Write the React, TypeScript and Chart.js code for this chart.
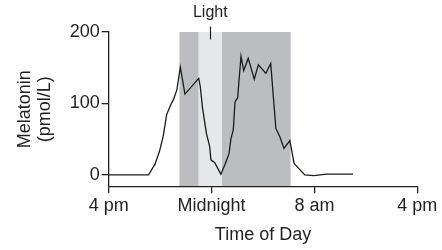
import React, { useEffect, useRef } from "react";
import { Chart, registerables } from "chart.js";

Chart.register(...registerables);

// Hours since the first day's midnight (16 = 4 pm, 24 = midnight, 32 = 8 am, 40 = 4 pm)
const HOURS = [
  16, 19.1, 19.6, 19.95, 20.25, 20.5, 20.8, 21.05, 21.3, 21.57, 21.93, 23.0, 23.12,
  23.3, 23.6, 23.85, 23.95, 24.25, 24.72, 25.05, 25.36, 25.51, 25.69, 25.82, 26.03,
  26.13, 26.29, 26.5, 26.85, 27.32, 27.64, 28.22, 28.6, 29.0, 29.32, 29.63, 30.09,
  30.42, 31.25, 31.95, 32.95, 35.0,
];
const MELATONIN = [
  0, 0, 15, 33, 55, 84, 97, 106, 119, 151, 113, 135, 124,
  93, 58, 40, 21, 17, 1, 15, 30, 51, 63, 102, 108,
  131, 166, 146, 163, 134, 154, 142, 156, 65, 53, 37, 48,
  16, 0, -1, 1, 1,
];

const X_TICKS = [16, 24, 32, 40];
const X_LABELS = ["4 pm", "Midnight", "8 am", "4 pm"];
const Y_TICKS = [0, 100, 200];

// Shaded periods [start hour, end hour, kind]
const DARK_PERIODS = [
  [21.5, 23.0],
  [24.8, 30.15],
];
const LIGHT_PERIOD = [23.0, 24.8];
const LIGHT_LABEL = "Light";

const INK = "#231f20";
const FONT = "'Liberation Sans', Arial, Helvetica, sans-serif";

export default function App() {
  const ref = useRef<HTMLCanvasElement | null>(null);

  useEffect(() => {
    const canvas = ref.current;
    if (!canvas) return;

    const shadePlugin = {
      id: "shade",
      beforeDraw(chart: any) {
        const { ctx, chartArea, scales } = chart;
        const x = scales.x;
        const y = scales.y;
        const top = y.getPixelForValue(200);
        const bottom = chartArea.bottom;
        ctx.save();
        ctx.fillStyle = "#bcbdc0";
        for (const [a, b] of DARK_PERIODS) {
          const xa = x.getPixelForValue(a);
          const xb = x.getPixelForValue(b);
          ctx.fillRect(xa, top, xb - xa, bottom - top);
        }
        ctx.fillStyle = "#e6e7e8";
        const la = x.getPixelForValue(LIGHT_PERIOD[0]);
        const lb = x.getPixelForValue(LIGHT_PERIOD[1]);
        ctx.fillRect(la, top, lb - la, bottom - top);
        ctx.restore();
      },
      afterDraw(chart: any) {
        const { ctx, scales } = chart;
        const x = scales.x;
        const y = scales.y;
        const top = y.getPixelForValue(200);
        const cx = x.getPixelForValue((LIGHT_PERIOD[0] + LIGHT_PERIOD[1]) / 2);
        ctx.save();
        ctx.strokeStyle = INK;
        ctx.lineWidth = 1.2;
        ctx.beginPath();
        ctx.moveTo(Math.round(cx) + 0.5, top - 5.5);
        ctx.lineTo(Math.round(cx) + 0.5, top + 7.5);
        ctx.stroke();
        ctx.fillStyle = INK;
        ctx.font = `16px ${FONT}`;
        ctx.textAlign = "center";
        ctx.textBaseline = "middle";
        ctx.fillText(LIGHT_LABEL, cx, top - 19);
        ctx.restore();
      },
    };

    const chart = new Chart(canvas, {
      type: "line",
      data: {
        datasets: [
          {
            data: HOURS.map((h, i) => ({ x: h, y: MELATONIN[i] })),
            borderColor: "#1a1a1a",
            borderWidth: 1.3,
            pointRadius: 0,
            tension: 0,
            fill: false,
          },
        ],
      },
      options: {
        responsive: false,
        animation: false,
        layout: { padding: { top: 32, right: 24.7, bottom: 0, left: 0 } },
        plugins: { legend: { display: false }, tooltip: { enabled: false } },
        scales: {
          x: {
            type: "linear",
            min: 16,
            max: 40,
            afterBuildTicks: (s: any) => {
              s.ticks = X_TICKS.map((v) => ({ value: v }));
            },
            afterFit: (s: any) => {
              s.height = 63.7;
            },
            ticks: {
              autoSkip: false,
              maxRotation: 0,
              padding: 2,
              color: INK,
              font: { family: FONT, size: 18 },
              callback: (v: any) => X_LABELS[X_TICKS.indexOf(Number(v))] ?? "",
            },
            grid: {
              display: true,
              drawOnChartArea: false,
              drawTicks: true,
              tickLength: 7,
              color: INK,
              lineWidth: 1.3,
            },
            border: { display: true, color: INK, width: 1.3 },
            title: {
              display: true,
              text: "Time of Day",
              color: INK,
              font: { family: FONT, size: 18 },
              padding: { top: 0, bottom: 4 },
            },
          },
          y: {
            type: "linear",
            min: -16,
            max: 200,
            afterBuildTicks: (s: any) => {
              s.ticks = Y_TICKS.map((v) => ({ value: v }));
            },
            afterFit: (s: any) => {
              s.width = 108.7;
            },
            ticks: {
              padding: 2,
              color: INK,
              font: { family: FONT, size: 18 },
            },
            grid: {
              display: true,
              drawOnChartArea: false,
              drawTicks: true,
              tickLength: 7,
              color: INK,
              lineWidth: 1.3,
            },
            border: { display: true, color: INK, width: 1.3 },
            title: {
              display: true,
              text: ["Melatonin", "(pmol/L)"],
              color: INK,
              font: { family: FONT, size: 18, lineHeight: 1.1 },
              padding: { top: 15, bottom: 0 },
            },
          },
        },
      },
      plugins: [shadePlugin],
    });

    return () => chart.destroy();
  }, []);

  return (
    <div style={{ position: "fixed", left: 0, top: 0, width: 442, height: 250, background: "#fff" }}>
      <canvas ref={ref} width={442} height={250} />
    </div>
  );
}
